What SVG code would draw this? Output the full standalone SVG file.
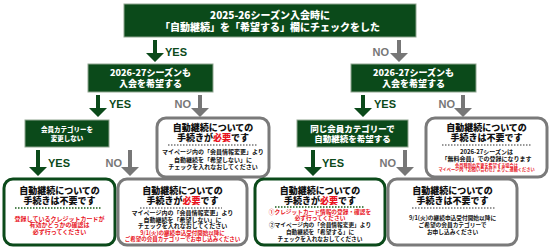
<svg xmlns="http://www.w3.org/2000/svg" width="550" height="250" viewBox="0 0 550 250">
<defs>
<style>
.q{fill:#0b4a1a;stroke:#8fa58f;stroke-width:1}
.qt{fill:#fff;font-family:"Noto Sans CJK JP","Noto Sans",sans-serif;font-weight:900;text-anchor:middle}
.rg{fill:#fff;stroke:#7a7a7a;stroke-width:3}
.rk{fill:#fff;stroke:#0b4a1a;stroke-width:3}
.tt{fill:#111;font-family:"Noto Sans CJK JP","Noto Sans",sans-serif;font-weight:900;text-anchor:middle;font-size:9px}
.bd{fill:#111;font-family:"Noto Sans CJK JP","Noto Sans",sans-serif;font-weight:700;text-anchor:middle;font-size:6px}
.red{fill:#e8141e}
.dg{stroke:#777;stroke-width:1.5;stroke-dasharray:1.5 1.5}
.dk{stroke:#1a5e1a;stroke-width:1.5;stroke-dasharray:1.5 1.5}
.yes{fill:#0b4a1a;font-family:"Liberation Sans",Arial,sans-serif;font-weight:700;font-size:11px}
.no{fill:#777;font-family:"Liberation Sans",Arial,sans-serif;font-weight:700;font-size:11px;text-anchor:end}
.ay{fill:#0b4a1a}
.an{fill:#777}
</style>
</defs>

<g id="connectors">
  <path class="ay" d="M153,40h4v13h7l-9,9l-9,-9h7z"/>
  <path class="an" d="M397,40h4v13h7l-9,9l-9,-9h7z"/>
  <path class="ay" d="M96,95h4v13h7l-9,9l-9,-9h7z"/>
  <path class="an" d="M198,95h4v13h7l-9,9l-9,-9h7z"/>
  <path class="ay" d="M361,95h4v13h7l-9,9l-9,-9h7z"/>
  <path class="an" d="M461,95h4v13h7l-9,9l-9,-9h7z"/>
  <path class="ay" d="M36,150h4v17h7l-9,9l-9,-9h7z"/>
  <path class="an" d="M128,150h4v17h7l-9,9l-9,-9h7z"/>
  <path class="ay" d="M311,150h4v17h7l-9,9l-9,-9h7z"/>
  <path class="an" d="M403,150h4v17h7l-9,9l-9,-9h7z"/>
  <text class="yes" x="165" y="56">YES</text>
  <text class="no" x="389" y="56">NO</text>
  <text class="yes" x="109" y="108">YES</text>
  <text class="no" x="191" y="108">NO</text>
  <text class="yes" x="374" y="108">YES</text>
  <text class="no" x="455" y="108">NO</text>
  <text class="yes" x="48" y="167">YES</text>
  <text class="no" x="122" y="167">NO</text>
  <text class="yes" x="322" y="167">YES</text>
  <text class="no" x="396" y="167">NO</text>
</g>

<g id="q1">
  <rect class="q" x="124" y="4" width="292" height="33"/>
  <text class="qt" x="270" y="19" font-size="10">2025-26シーズン入会時に</text>
  <text class="qt" x="270" y="31" font-size="10">「自動継続」を「希望する」欄にチェックをした</text>
</g>

<g id="q2left">
  <rect class="q" x="88" y="64" width="125" height="28"/>
  <text class="qt" x="150.5" y="75.5" font-size="9">2026-27シーズンも</text>
  <text class="qt" x="150.5" y="86.5" font-size="9">入会を希望する</text>
</g>

<g id="q2right">
  <rect class="q" x="351" y="64" width="125" height="28"/>
  <text class="qt" x="413.5" y="75.5" font-size="9">2026-27シーズンも</text>
  <text class="qt" x="413.5" y="86.5" font-size="9">入会を希望する</text>
</g>

<g id="q3left">
  <rect class="q" x="25" y="120" width="84" height="27"/>
  <text class="qt" x="67" y="131.5" font-size="6.5">会員カテゴリーを</text>
  <text class="qt" x="67" y="140.5" font-size="6.5">変更しない</text>
</g>

<g id="q3right">
  <rect class="q" x="297" y="120" width="111" height="27"/>
  <text class="qt" x="352.5" y="131.5" font-size="8.5">同じ会員カテゴリーで</text>
  <text class="qt" x="352.5" y="142" font-size="8.5">自動継続を希望する</text>
</g>

<g id="r2left">
  <rect class="rg" x="157" y="118" width="112" height="59" rx="9"/>
  <text class="tt" x="213" y="131">自動継続についての</text>
  <text class="tt" x="213" y="141">手続きが<tspan class="red">必要</tspan>です</text>
  <line class="dg" x1="168" y1="145" x2="258" y2="145"/>
  <text class="bd" x="213" y="154">マイページ内の「会員情報変更」より</text>
  <text class="bd" x="213" y="161.5">自動継続を「希望しない」に</text>
  <text class="bd" x="213" y="169">チェックを入れなおしてください</text>
</g>

<g id="r2right">
  <rect class="rg" x="426" y="118" width="121" height="59" rx="9"/>
  <text class="tt" x="486.5" y="131">自動継続についての</text>
  <text class="tt" x="486.5" y="141">手続きは不要です</text>
  <line class="dg" x1="442" y1="145" x2="532" y2="145"/>
  <text class="bd" x="486.5" y="154">2026-27シーズンは</text>
  <text class="bd" x="486.5" y="161">「無料会員」での登録になります</text>
  <text class="bd red" transform="translate(486.5,166.5) scale(0.7)">会員種別の変更を希望する場合は</text>
  <text class="bd red" transform="translate(486.5,171.3) scale(0.7)">マイページ内「お問い合わせ」よりご連絡ください</text>
</g>

<g id="b1">
  <rect class="rk" x="4" y="179" width="111" height="66" rx="9"/>
  <text class="tt" x="59.5" y="194">自動継続についての</text>
  <text class="tt" x="59.5" y="204">手続きは不要です</text>
  <line class="dk" x1="15" y1="208" x2="102" y2="208"/>
  <text class="bd red" x="59.5" y="220.5">登録しているクレジットカードが</text>
  <text class="bd red" x="59.5" y="227">有効かどうかの確認は</text>
  <text class="bd red" x="59.5" y="233.5">必ず行ってください</text>
</g>

<g id="b2">
  <rect class="rg" x="118" y="179" width="129" height="66" rx="9"/>
  <text class="tt" x="182.5" y="194">自動継続についての</text>
  <text class="tt" x="182.5" y="204">手続きが<tspan class="red">必要</tspan>です</text>
  <line class="dg" x1="140" y1="208" x2="222" y2="208"/>
  <text class="bd" x="182.5" y="215">マイページ内の「会員情報変更」より</text>
  <text class="bd" x="182.5" y="221.5">自動継続を「希望しない」に</text>
  <text class="bd" x="182.5" y="228">チェックを入れなおしてください</text>
  <text class="bd red" transform="translate(182.5,235) scale(0.92)">9/1(火)の継続申込受付開始以降に</text>
  <text class="bd red" transform="translate(182.5,241.3) scale(0.92)">ご希望の会員カテゴリーでお申し込みください</text>
</g>

<g id="b3">
  <rect class="rk" x="255" y="179" width="130" height="66" rx="9"/>
  <text class="tt" x="320" y="194">自動継続についての</text>
  <text class="tt" x="320" y="204">手続きが<tspan class="red">必要</tspan>です</text>
  <line class="dk" x1="275" y1="207" x2="364" y2="207"/>
  <text class="bd red" transform="translate(320,214) scale(0.95)">①クレジットカード情報の登録・確認を</text>
  <text class="bd red" transform="translate(320,220) scale(0.95)">必ず行ってください</text>
  <text class="bd" transform="translate(320,227) scale(0.95)">②マイページ内の「会員情報変更」より</text>
  <text class="bd" transform="translate(320,234) scale(0.95)">自動継続を「希望する」に</text>
  <text class="bd" transform="translate(320,241) scale(0.95)">チェックを入れなおしてください</text>
</g>

<g id="b4">
  <rect class="rg" x="388" y="179" width="129" height="66" rx="9"/>
  <text class="tt" x="452.5" y="194">自動継続についての</text>
  <text class="tt" x="452.5" y="204">手続きは不要です</text>
  <line class="dg" x1="412" y1="208" x2="496" y2="208"/>
  <text class="bd" transform="translate(452.5,220) scale(0.95)">9/1(火)の継続申込受付開始以降に</text>
  <text class="bd" transform="translate(452.5,227) scale(0.95)">ご希望の会員カテゴリーで</text>
  <text class="bd" transform="translate(452.5,234) scale(0.95)">お申し込みください</text>
</g>
</svg>
